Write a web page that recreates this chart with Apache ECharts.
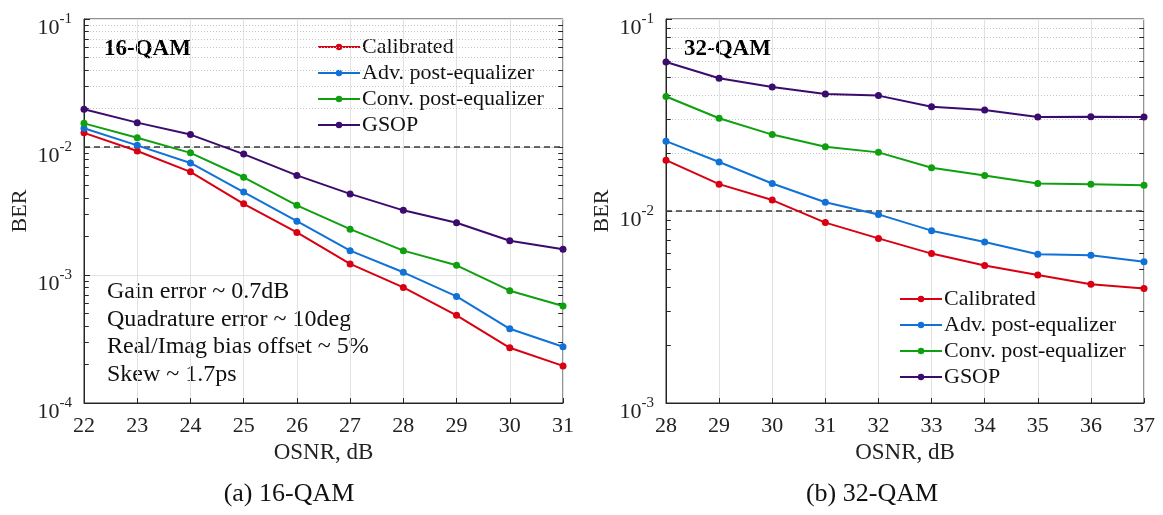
<!DOCTYPE html>
<html>
<head>
<meta charset="utf-8">
<script src="https://cdn.jsdelivr.net/npm/echarts@6/dist/echarts.min.js"></script>
<style>
  html, body { margin: 0; padding: 0; background: #fff; }
  #chart { width: 1163px; height: 515px; }
</style>
</head>
<body>
<div id="chart"></div>
<script>
// OSNR sweep points (dB)
const osnr16 = [22, 23, 24, 25, 26, 27, 28, 29, 30, 31];
const osnr32 = [28, 29, 30, 31, 32, 33, 34, 35, 36, 37];

// 16-QAM BER curves
const cal16  = [0.0129, 0.0093, 0.0064, 0.0036, 0.00215, 0.00122, 0.0008, 0.000484, 0.00027, 0.000195];
const adv16  = [0.0140, 0.0103, 0.0075, 0.00445, 0.00263, 0.00155, 0.00105, 0.00068, 0.00038, 0.000275];
const conv16 = [0.0153, 0.0118, 0.0090, 0.0058, 0.0035, 0.00228, 0.00155, 0.00119, 0.000754, 0.000573];
const gsop16 = [0.0197, 0.0155, 0.0125, 0.0088, 0.0060, 0.0043, 0.0032, 0.00256, 0.00185, 0.00159];

// 32-QAM BER curves
const cal32  = [0.0184, 0.0138, 0.0114, 0.0087, 0.0072, 0.0060, 0.0052, 0.00464, 0.00415, 0.00395];
const adv32  = [0.0231, 0.0180, 0.0139, 0.0111, 0.0096, 0.0079, 0.0069, 0.00595, 0.00588, 0.00544];
const conv32 = [0.0395, 0.0304, 0.0250, 0.0216, 0.0202, 0.0168, 0.0153, 0.0139, 0.0138, 0.0136];
const gsop32 = [0.0597, 0.0491, 0.0443, 0.0407, 0.0399, 0.0349, 0.0336, 0.0309, 0.0310, 0.0309];

const seriesNames = ['Calibrated', 'Adv. post-equalizer', 'Conv. post-equalizer', 'GSOP'];
const seriesColors = ['#d90012', '#1072d6', '#0fa00f', '#3b0b6e'];
const berThreshold = 0.01;
const impairmentNotes = [
  'Gain error ~ 0.7dB',
  'Quadrature error ~ 10deg',
  'Real/Imag bias offset ~ 5%',
  'Skew ~ 1.7ps'
];

const FONT = '"Liberation Serif", "DejaVu Serif", serif';

function pairs(xs, ys) { return xs.map((x, i) => [x, ys[i]]); }

// values 2..9 x each decade, used for dotted minor grid and minor ticks
function minorValues(minExp, maxExp) {
  const out = [];
  for (let e = minExp; e < maxExp; e++) {
    for (let k = 2; k <= 9; k++) out.push(k * Math.pow(10, e));
  }
  return out;
}

// short inward tick segments on the left and right frame edges
function sideTicks(xs, values) {
  const x0 = xs[0], x1 = xs[xs.length - 1], len = 0.09;
  const segs = [];
  values.forEach(v => {
    segs.push([{ coord: [x0, v] }, { coord: [x0 + len, v] }]);
    segs.push([{ coord: [x1 - len, v] }, { coord: [x1, v] }]);
  });
  return segs;
}

function xAxisFor(idx, xs) {
  return {
    gridIndex: idx, type: 'value', min: xs[0], max: xs[xs.length - 1], interval: 1,
    name: 'OSNR, dB', nameLocation: 'middle', nameGap: 37,
    nameTextStyle: { fontFamily: FONT, fontSize: 23, color: '#222' },
    axisLine: { show: true, onZero: false, lineStyle: { color: '#262626', width: 1 } },
    axisTick: { show: true, inside: true, length: 5, lineStyle: { color: '#262626' } },
    axisLabel: { fontFamily: FONT, fontSize: 22, color: '#222', margin: 12 },
    splitLine: { show: true, lineStyle: { color: '#e2e2e2', width: 1 } }
  };
}

function yAxisFor(idx, min, max) {
  return {
    gridIndex: idx, type: 'log', logBase: 10, min: min, max: max,
    name: 'BER', nameLocation: 'middle', nameGap: 53, nameRotate: 90,
    nameTextStyle: { fontFamily: FONT, fontSize: 22, color: '#222' },
    axisLine: { show: true, lineStyle: { color: '#262626', width: 1 } },
    axisTick: { show: true, inside: true, length: 6, lineStyle: { color: '#262626' } },
    axisLabel: {
      margin: 12,
      formatter: v => '{base|10}{sup|' + Math.round(Math.log10(v)) + '}',
      rich: {
        base: { fontFamily: FONT, fontSize: 22, color: '#222', padding: [18, 0, 0, 0] },
        sup: { fontFamily: FONT, fontSize: 15, color: '#222', padding: [0, 0, 0, 0] }
      }
    },
    splitLine: { show: true, lineStyle: { color: '#e2e2e2', width: 1 } }
  };
}

function curveSeries(idx, xs, ys, k) {
  return {
    name: seriesNames[k], type: 'line', xAxisIndex: idx, yAxisIndex: idx,
    data: pairs(xs, ys), z: 5,
    symbol: 'circle', symbolSize: 7,
    lineStyle: { width: 2, color: seriesColors[k] },
    itemStyle: { color: seriesColors[k] },
    animation: false
  };
}

function guideSeries(idx, xs, minExp, maxExp) {
  const minors = minorValues(minExp, maxExp);
  const majors = [];
  for (let e = minExp + 1; e < maxExp; e++) majors.push(Math.pow(10, e));
  return [
    {
      name: 'minor-grid', type: 'line', xAxisIndex: idx, yAxisIndex: idx, data: [], z: 1,
      silent: true, animation: false,
      markLine: {
        silent: true, symbol: 'none', label: { show: false }, animation: false,
        lineStyle: { type: [1, 2], color: '#c4c4c4', width: 1 },
        data: minors.map(v => ({ yAxis: v }))
      }
    },
    {
      name: 'minor-ticks', type: 'line', xAxisIndex: idx, yAxisIndex: idx, data: [], z: 2,
      silent: true, animation: false,
      markLine: {
        silent: true, symbol: 'none', label: { show: false }, animation: false,
        lineStyle: { type: 'solid', color: '#262626', width: 1 },
        data: sideTicks(xs, minors.concat(majors))
      }
    },
    {
      name: 'threshold', type: 'line', xAxisIndex: idx, yAxisIndex: idx, data: [], z: 3,
      silent: true, animation: false,
      markLine: {
        silent: true, symbol: 'none', label: { show: false }, animation: false,
        lineStyle: { type: [6, 4], color: '#3a3a3a', width: 1.5 },
        data: [{ yAxis: berThreshold }]
      }
    }
  ];
}

function legendFor(left, top) {
  return {
    left: left, top: top, orient: 'vertical', data: seriesNames, padding: 0,
    itemWidth: 42, itemHeight: 8, itemGap: 4,
    lineStyle: { width: 2 },
    textStyle: { fontFamily: FONT, fontSize: 22, color: '#111', lineHeight: 22, padding: [0, 0, 0, -3] },
    selectedMode: false
  };
}

const chart = echarts.init(document.getElementById('chart'), null, { renderer: 'canvas' });

const option = {
  backgroundColor: '#fff',
  animation: false,
  grid: [
    { left: 84, top: 19, width: 479, height: 384, show: true, borderColor: '#262626', borderWidth: 1, backgroundColor: 'transparent' },
    { left: 666, top: 19, width: 478, height: 384, show: true, borderColor: '#262626', borderWidth: 1, backgroundColor: 'transparent' }
  ],
  xAxis: [xAxisFor(0, osnr16), xAxisFor(1, osnr32)],
  yAxis: [yAxisFor(0, 1e-4, 1e-1), yAxisFor(1, 1e-3, 1e-1)],
  legend: [legendFor(317, 36), legendFor(899, 288)],
  series: [
    ...guideSeries(0, osnr16, -4, -1),
    ...guideSeries(1, osnr32, -3, -1),
    curveSeries(0, osnr16, cal16, 0),
    curveSeries(0, osnr16, adv16, 1),
    curveSeries(0, osnr16, conv16, 2),
    curveSeries(0, osnr16, gsop16, 3),
    curveSeries(1, osnr32, cal32, 0),
    curveSeries(1, osnr32, adv32, 1),
    curveSeries(1, osnr32, conv32, 2),
    curveSeries(1, osnr32, gsop32, 3)
  ],
  graphic: [
    { type: 'text', left: 104, top: 38, style: { text: '16-QAM', font: 'bold 23px ' + FONT, fill: '#000' } },
    { type: 'text', left: 684, top: 38, style: { text: '32-QAM', font: 'bold 23px ' + FONT, fill: '#000' } },
    {
      type: 'text', left: 107, top: 278,
      style: { text: impairmentNotes.join('\n'), font: '24px ' + FONT, fill: '#111', lineHeight: 27.5 }
    },
    { type: 'text', x: 289, y: 494, style: { text: '(a) 16-QAM', font: '26px ' + FONT, fill: '#111', align: 'center', verticalAlign: 'middle' } },
    { type: 'text', x: 872, y: 494, style: { text: '(b) 32-QAM', font: '26px ' + FONT, fill: '#111', align: 'center', verticalAlign: 'middle' } }
  ]
};

chart.setOption(option);
</script>
</body>
</html>
